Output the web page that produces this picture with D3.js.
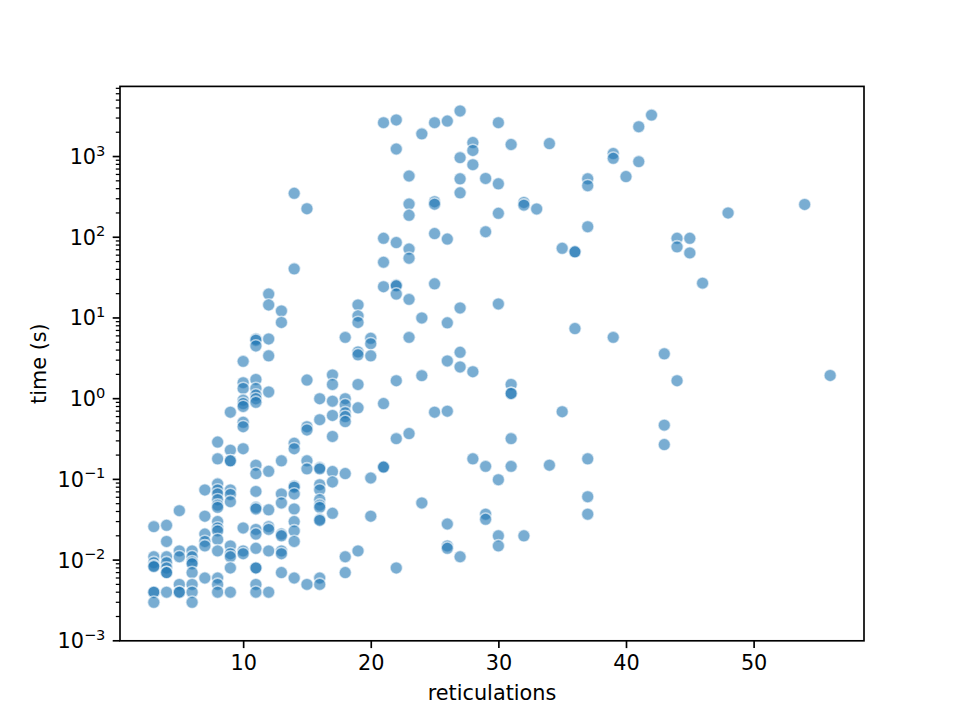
<!DOCTYPE html>
<html>
<head>
<meta charset="utf-8">
<script src="https://cdn.jsdelivr.net/npm/d3@7"></script>
<style>
    body { margin: 0; background: white; }
    text { font-family: "DejaVu Sans", sans-serif; fill: black; }
</style>
</head>
<body>
<script>
// reticulation counts and the measured run times (s) for each of them
const reticulationCounts = [3, 4, 5, 6, 7, 8, 9, 10, 11, 12, 13, 14, 15, 16, 17, 18, 19, 20,
    21, 22, 23, 24, 25, 26, 27, 28, 29, 30, 31, 32, 33, 34, 35, 36, 37, 39, 40, 41, 42, 43,
    44, 45, 46, 48, 54, 56];

const timesPerCount = [
    [0.026, 0.011, 0.0093, 0.0085, 0.0083, 0.004, 0.004, 0.003],
    [0.027, 0.017, 0.011, 0.0093, 0.008, 0.007, 0.007, 0.004],
    [0.041, 0.013, 0.011, 0.005, 0.004, 0.004],
    [0.013, 0.011, 0.0095, 0.009, 0.007, 0.005, 0.004, 0.003],
    [0.074, 0.035, 0.021, 0.017, 0.015, 0.006],
    [0.29, 0.18, 0.088, 0.074, 0.066, 0.056, 0.048, 0.045, 0.030, 0.025, 0.023, 0.018, 0.013, 0.006, 0.005, 0.004],
    [0.68, 0.23, 0.17, 0.17, 0.074, 0.065, 0.053, 0.015, 0.012, 0.011, 0.008, 0.004],
    [2.9, 1.58, 1.34, 0.96, 0.87, 0.8, 0.51, 0.45, 0.24, 0.025, 0.013, 0.012],
    [5.5, 5.3, 4.5, 1.73, 1.34, 1.11, 1.0, 0.9, 0.15, 0.118, 0.071, 0.045, 0.043, 0.024, 0.021, 0.014, 0.008, 0.008, 0.005, 0.004],
    [19.8, 14.5, 5.5, 3.4, 1.21, 0.126, 0.042, 0.026, 0.024, 0.013, 0.004],
    [12.2, 8.8, 0.17, 0.066, 0.051, 0.021, 0.02, 0.013, 0.012, 0.007],
    [350, 40.6, 0.28, 0.24, 0.083, 0.08, 0.066, 0.043, 0.03, 0.023, 0.017, 0.006],
    [226, 1.7, 0.45, 0.41, 0.17, 0.135, 0.005],
    [1.0, 0.55, 0.14, 0.135, 0.086, 0.074, 0.056, 0.048, 0.045, 0.032, 0.031, 0.006, 0.005],
    [1.97, 1.5, 0.93, 0.62, 0.34, 0.125, 0.093, 0.038],
    [5.75, 1.0, 0.84, 0.67, 0.6, 0.52, 0.118, 0.011, 0.007],
    [14.5, 10.6, 8.8, 3.8, 3.5, 1.5, 0.77, 0.013],
    [5.6, 4.8, 3.4, 0.104, 0.035],
    [2630, 97, 49, 24.4, 0.87, 0.142, 0.142],
    [2840, 1240, 86, 25.6, 25, 19.8, 1.67, 0.32, 0.008],
    [574, 258, 187, 71.5, 55, 17, 5.75, 0.37],
    [1910, 10, 1.93, 0.051],
    [2630, 276, 257, 111, 26.5, 0.68],
    [2750, 95, 8.7, 2.93, 0.70, 0.028, 0.015, 0.014],
    [3670, 970, 530, 355, 13.3, 3.75, 2.47, 0.011],
    [1490, 1190, 794, 2.16, 0.18],
    [535, 117, 0.145, 0.037, 0.032],
    [2630, 460, 198, 14.9, 0.099, 0.02, 0.015],
    [1410, 1.5, 1.16, 1.16, 0.32, 0.145],
    [270, 250, 0.02],
    [224],
    [1450, 0.15],
    [73, 0.69],
    [66, 66, 7.4],
    [530, 435, 135, 0.18, 0.061, 0.037],
    [1090, 950, 5.75],
    [565],
    [2340, 865],
    [3260],
    [3.6, 0.47, 0.27],
    [97, 76, 1.67],
    [97, 64],
    [27],
    [200],
    [255],
    [1.94]
];

const xTickValues = [10, 20, 30, 40, 50];
const yTickExponents = [-3, -2, -1, 0, 1, 2, 3];

class RuntimeScatter {
    constructor(counts, times) {
        this.width = 960;
        this.height = 720;
        this.margin = { top: 86.4, right: 96, bottom: 79.2, left: 120 };
        this.points = [];
        counts.forEach((c, i) => times[i].forEach(t => this.points.push({ x: c, y: t })));
        this.svg = null;
    }

    init() {
        this.svg = d3.select("body").append("svg")
            .attr("width", this.width)
            .attr("height", this.height);
        this.innerW = this.width - this.margin.left - this.margin.right;
        this.innerH = this.height - this.margin.top - this.margin.bottom;
        this.g = this.svg.append("g")
            .attr("transform", `translate(${this.margin.left},${this.margin.top})`);
        this.makeScales();
        this.drawPoints();
        this.drawAxes();
        this.drawLabels();
    }

    makeScales() {
        // matplotlib style 5% margins on x, log margin on top, bottom fixed at 1e-3
        const [xmin, xmax] = d3.extent(this.points, d => d.x);
        const padX = (xmax - xmin) * 0.05;
        this.x = d3.scaleLinear().domain([xmin - padX, xmax + padX]).range([0, this.innerW]);

        const [lmin, lmax] = d3.extent(this.points, d => Math.log10(d.y));
        const top = lmax + (lmax - lmin) * 0.05;
        this.y = d3.scaleLog().domain([1e-3, Math.pow(10, top)]).range([this.innerH, 0]);
    }

    drawPoints() {
        this.g.append("g").selectAll("circle")
            .data(this.points)
            .enter().append("circle")
            .attr("cx", d => this.x(d.x))
            .attr("cy", d => this.y(d.y))
            .attr("r", 6.25)
            .style("fill", "#1f77b4")
            .style("fill-opacity", 0.6)
            .style("stroke", "white")
            .style("stroke-opacity", 0.6)
            .style("stroke-width", 1.56);
    }

    drawAxes() {
        const xAxis = this.g.append("g")
            .attr("transform", `translate(0,${this.innerH})`)
            .call(d3.axisBottom(this.x).tickValues(xTickValues).tickSize(7.3).tickPadding(7.3)
                .tickFormat(d3.format("d")));
        xAxis.select(".domain").remove();
        xAxis.selectAll("line").style("stroke-width", 1.67);
        xAxis.selectAll("text").style("font-size", "20.8px").attr("font-family", null);

        // minor ticks on the log axis
        const [lo, hi] = this.y.domain();
        const minors = [];
        for (let k = -4; k <= 4; k++) {
            for (let m = 2; m <= 9; m++) {
                const v = m * Math.pow(10, k);
                if (v >= lo && v <= hi) minors.push(v);
            }
        }
        this.g.append("g").selectAll("line")
            .data(minors)
            .enter().append("line")
            .attr("x1", -4.2).attr("x2", 0)
            .attr("y1", d => this.y(d)).attr("y2", d => this.y(d))
            .style("stroke", "black").style("stroke-width", 1.25);

        const yTicks = this.g.append("g").selectAll("g")
            .data(yTickExponents)
            .enter().append("g")
            .attr("transform", d => `translate(0,${this.y(Math.pow(10, d))})`);
        yTicks.append("line")
            .attr("x1", -7.3).attr("x2", 0)
            .style("stroke", "black").style("stroke-width", 1.67);
        const label = yTicks.append("text")
            .attr("x", -14.6)
            .attr("dy", "0.36em")
            .attr("text-anchor", "end")
            .style("font-size", "20.8px");
        label.append("tspan").text("10");
        label.append("tspan")
            .attr("dy", -8.5)
            .style("font-size", "14.6px")
            .text(d => d < 0 ? "\u2212" + Math.abs(d) : d);

        // frame
        this.g.append("rect")
            .attr("width", this.innerW)
            .attr("height", this.innerH)
            .style("fill", "none")
            .style("stroke", "black")
            .style("stroke-width", 1.67);
    }

    drawLabels() {
        this.svg.append("text")
            .attr("x", this.margin.left + this.innerW / 2)
            .attr("y", 700)
            .attr("text-anchor", "middle")
            .style("font-size", "20.8px")
            .text("reticulations");

        this.svg.append("text")
            .attr("transform", `translate(46,${this.margin.top + this.innerH / 2}) rotate(-90)`)
            .attr("text-anchor", "middle")
            .style("font-size", "20.8px")
            .text("time (s)");
    }
}

const chart = new RuntimeScatter(reticulationCounts, timesPerCount);
chart.init();
</script>
</body>
</html>
